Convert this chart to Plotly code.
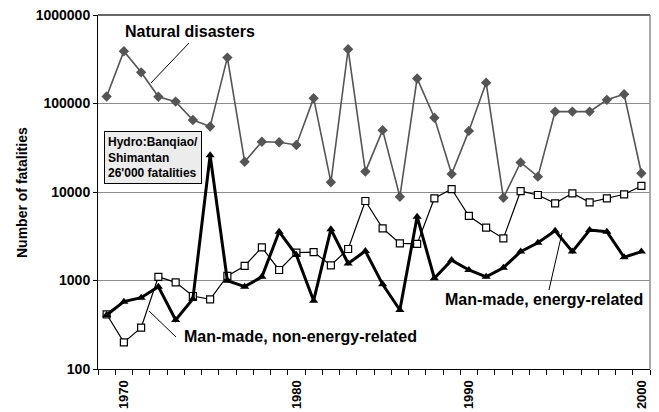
import plotly.graph_objects as go

# data
years = list(range(1969, 2001))

natural = [120000, 390000, 225000, 119000, 105000, 65000, 55000, 330000, 22000, 37000,
           36500, 34000, 115000, 12900, 410000, 17000, 50000, 8850, 192000, 69000,
           16000, 49000, 172000, 8600, 21600, 14900, 81000, 81000, 81000, 110000,
           127000, 16300]

energy = [407, 577, 640, 852, 358, 618, 26000, 995, 852, 1100,
          3560, 1940, 591, 3790, 1560, 2150, 905, 464, 5260, 1060,
          1700, 1315, 1100, 1395, 2120, 2670, 3650, 2120, 3720, 3560,
          1830, 2120]

non_energy = [415, 200, 293, 1100, 953, 668, 613, 1125, 1460, 2370,
              1315, 2065, 2090, 1485, 2270, 7910, 3890, 2630, 2590, 8490,
              10800, 5360, 3950, 2990, 10250, 9250, 7440, 9670, 7640, 8490,
              9420, 11700]

y_ticks = [100, 1000, 10000, 100000, 1000000]
x_ticks = [1970, 1980, 1990, 2000]

FONT = "Arial, Liberation Sans, sans-serif"

fig = go.Figure()

fig.add_trace(go.Scatter(x=years, y=natural, mode="lines+markers", name="Natural disasters",
                         line=dict(color="#555555", width=1.6),
                         marker=dict(symbol="diamond", size=8, color="#555555")))
fig.add_trace(go.Scatter(x=years, y=non_energy, mode="lines+markers", name="Man-made, non-energy-related",
                         line=dict(color="black", width=1.2),
                         marker=dict(symbol="square", size=7, color="white",
                                     line=dict(color="black", width=1.2))))
fig.add_trace(go.Scatter(x=years, y=energy, mode="lines+markers", name="Man-made, energy-related",
                         line=dict(color="black", width=3),
                         marker=dict(symbol="triangle-up", size=8, color="black")))

fig.update_layout(
    width=659, height=412,
    margin=dict(l=98, r=9, t=15, b=43),
    plot_bgcolor="white", paper_bgcolor="white",
    showlegend=False,
    font=dict(family=FONT, color="black"),
)

fig.update_xaxes(
    range=[1968.5, 2000.5], automargin=False,
    tickvals=x_ticks, ticktext=[str(t) for t in x_ticks],
    tickangle=-90, tickfont=dict(size=13, weight="bold"),
    ticks="outside", ticklen=5, tickcolor="rgba(0,0,0,0)",
    minor=dict(tick0=1968.5, dtick=1, ticks="outside", ticklen=5, tickcolor="black", showgrid=False),
    showgrid=False, showline=True, linecolor="black", linewidth=1,
    zeroline=False,
)

fig.update_yaxes(
    type="log", range=[2, 6], automargin=False,
    tickvals=y_ticks, ticktext=[str(t) for t in y_ticks],
    tickfont=dict(size=14, weight="bold"),
    ticks="outside", ticklen=4, tickcolor="black",
    showgrid=True, gridcolor="#8c8c8c", gridwidth=1,
    showline=True, linecolor="black", linewidth=1,
)


def label(text, x, y, size=16, angle=0, **kw):
    fig.add_annotation(text=text, xref="paper", yref="paper", x=x, y=y,
                       xanchor="center", yanchor="middle", textangle=angle,
                       showarrow=False, font=dict(size=size, weight="bold"), **kw)


def leader(x0, y0, x1, y1):
    fig.add_shape(type="line", xref="paper", yref="paper", x0=x0, y0=y0, x1=x1, y1=y1,
                  line=dict(color="black", width=1))


# y axis title placed manually
label("Number of fatalities", -0.1377, 0.5, size=14, angle=-90)

# frame: top and right edges
fig.add_shape(type="line", xref="paper", yref="paper", x0=0, x1=1, y0=1, y1=1,
              line=dict(color="#333333", width=1.5))
fig.add_shape(type="line", xref="paper", yref="paper", x0=1, x1=1, y0=0, y1=1,
              line=dict(color="#8c8c8c", width=1.5))

# labels and leader lines
label("Natural disasters", 0.1667, 0.952)
leader(0.096, 0.808, 0.165, 0.921)

label("Hydro:Banqiao/<br>Shimantan<br>26'000 fatalities", 0.0996, 0.5975, size=12, align="left",
      bgcolor="#ececec", bordercolor="black", borderwidth=1, borderpad=3)

label("Man-made, non-energy-related", 0.366, 0.093)
leader(0.0924, 0.164, 0.1413, 0.0904)

label("Man-made, energy-related", 0.808, 0.195)
leader(0.817, 0.2232, 0.8406, 0.384)

# page body has a default 8px margin; remove it so the figure sits at the corner
fig.write_html("out.html", config={"displayModeBar": False},
               post_script="document.body.style.margin='0';")
